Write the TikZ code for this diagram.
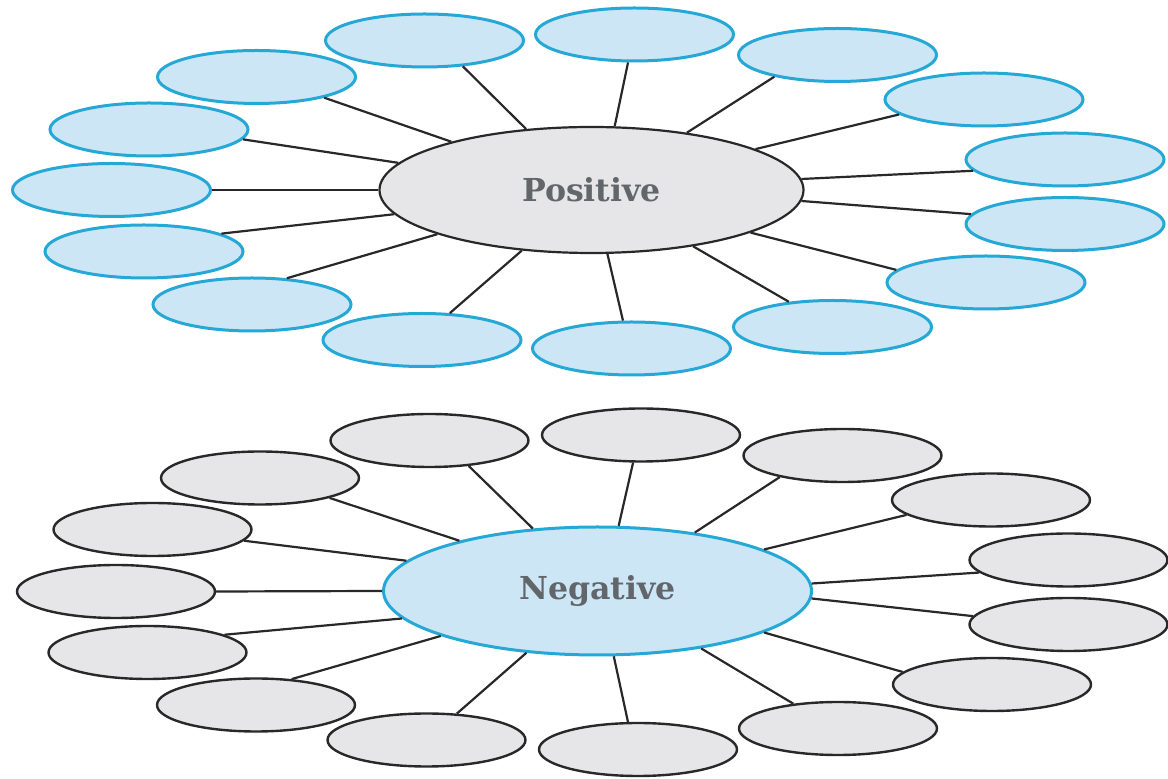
\documentclass[tikz,border=0pt]{standalone}
\usepackage{fontspec}
\setmainfont{DejaVu Serif}
\usetikzlibrary{shapes.geometric}
\definecolor{lblue}{RGB}{204,230,246}
\definecolor{bblue}{RGB}{38,168,214}
\definecolor{lgray}{RGB}{230,230,232}
\definecolor{dgray}{RGB}{40,40,40}
\definecolor{tgray}{RGB}{98,102,106}
\tikzset{
  leafB/.style={ellipse, draw=bblue, fill=lblue, line width=1.5pt, minimum width=99pt, minimum height=26.5pt, inner sep=0pt},
  leafG/.style={ellipse, draw=dgray, fill=lgray, line width=1.2pt, minimum width=99pt, minimum height=26.5pt, inner sep=0pt},
  hubP/.style={ellipse, draw=dgray, fill=lgray, line width=1.1pt, minimum width=212pt, minimum height=63pt, inner sep=0pt, text=tgray, font=\fontsize{15.8}{18}\selectfont\bfseries},
  hubN/.style={ellipse, draw=bblue, fill=lblue, line width=1.5pt, minimum width=214pt, minimum height=64pt, inner sep=0pt, text=tgray, font=\fontsize{15.8}{18}\selectfont\bfseries},
  link/.style={draw=dgray, line width=1.1pt}
}
\begin{document}
\begin{tikzpicture}[x=0.5pt,y=-0.5pt]
\useasboundingbox (0,0) rectangle (1168,779);
% ---------- Positive ----------
\node[hubP] (P) at (591.5,190) {Positive};
\node[leafB] (p1) at (424.5,40.5) {};
\node[leafB] (p2) at (634.5,34.5) {};
\node[leafB] (p3) at (837.5,55) {};
\node[leafB] (p4) at (984,99.5) {};
\node[leafB] (p5) at (1065,159.5) {};
\node[leafB] (p6) at (1065,224) {};
\node[leafB] (p7) at (986,282.5) {};
\node[leafB] (p8) at (832.5,327) {};
\node[leafB] (p9) at (631.5,348.5) {};
\node[leafB] (p10) at (422,340) {};
\node[leafB] (p11) at (252,304.5) {};
\node[leafB] (p12) at (144,251.5) {};
\node[leafB] (p13) at (111.5,190) {};
\node[leafB] (p14) at (149,129.5) {};
\node[leafB] (p15) at (256.5,77) {};
\draw[link] (P.137.4) -- (p1.-34.5);
\draw[link] (P.70.9) -- (p2.-103.3);
\draw[link] (P.31.4) -- (p3.-161.2);
\draw[link] (P.14.5) -- (p4.-170.4);
\draw[link] (P.3.2) -- (p5.-173.2);
\draw[link] (P.-3.2) -- (p6.174.7);
\draw[link] (P.-15.2) -- (p7.172.2);
\draw[link] (P.-29.7) -- (p8.150.5);
\draw[link] (P.-76.6) -- (p9.107.2);
\draw[link] (P.-139) -- (p10.44);
\draw[link] (P.-164.4) -- (p11.37.4);
\draw[link] (P.-173.6) -- (p12.13.3);
\draw[link] (P.180) -- (p13.0);
\draw[link] (P.172) -- (p14.-6.2);
\draw[link] (P.161.2) -- (p15.-17);
% ---------- Negative ----------
\node[hubN] (N) at (597.5,591) {Negative};
\node[leafG] (n1) at (429.5,440.5) {};
\node[leafG] (n2) at (641,435) {};
\node[leafG] (n3) at (842.5,455.5) {};
\node[leafG] (n4) at (991,500) {};
\node[leafG] (n5) at (1068.5,560) {};
\node[leafG] (n6) at (1068.5,624.5) {};
\node[leafG] (n7) at (992,684.5) {};
\node[leafG] (n8) at (838,728.5) {};
\node[leafG] (n9) at (638,749.5) {};
\node[leafG] (n10) at (426.5,740) {};
\node[leafG] (n11) at (256,705) {};
\node[leafG] (n12) at (147.5,652.5) {};
\node[leafG] (n13) at (116,591.5) {};
\node[leafG] (n14) at (152.5,529.5) {};
\node[leafG] (n15) at (260,478) {};
\draw[link] (N.136.1) -- (n1.-33.2);
\draw[link] (N.72) -- (n2.-106.5);
\draw[link] (N.31.4) -- (n3.-161);
\draw[link] (N.14.4) -- (n4.-170.8);
\draw[link] (N.2.9) -- (n5.-172.8);
\draw[link] (N.-2.4) -- (n6.175.6);
\draw[link] (N.-14.7) -- (n7.172.5);
\draw[link] (N.-29.9) -- (n8.151);
\draw[link] (N.-76) -- (n9.110);
\draw[link] (N.-139) -- (n10.41.5);
\draw[link] (N.-164.2) -- (n11.36.9);
\draw[link] (N.-172.9) -- (n12.13.6);
\draw[link] (N.180) -- (n13.0);
\draw[link] (N.171.8) -- (n14.-7.5);
\draw[link] (N.160.9) -- (n15.-16.4);
\end{tikzpicture}
\end{document}
